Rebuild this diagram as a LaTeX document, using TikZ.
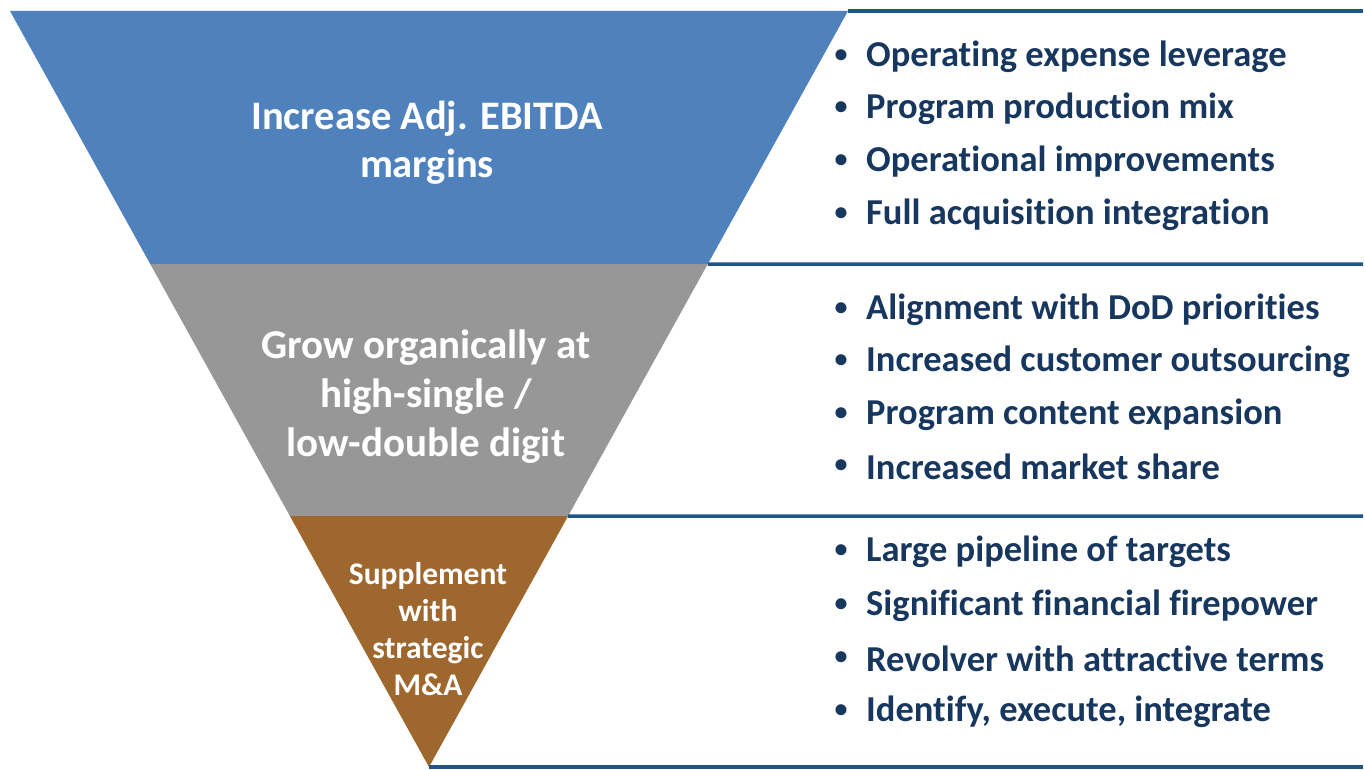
\documentclass[tikz,border=0pt]{standalone}
\usepackage{fontspec}
\setmainfont{Carlito}[Ligatures=NoCommon]
\usepackage{tikz}
\usetikzlibrary{calc}

\definecolor{tierblue}{RGB}{79,129,189}
\definecolor{tiergrey}{RGB}{151,151,151}
\definecolor{tierbrown}{RGB}{158,103,46}
\definecolor{rulenavy}{RGB}{31,84,135}
\definecolor{textnavy}{RGB}{23,55,94}

\tikzset{
  tiertext/.style={white, align=center},
  bullet/.style={textnavy, anchor=west, font=\fontsize{36.5}{42}\selectfont\bfseries, inner sep=0pt},
  dot/.style={textnavy, font=\fontsize{26}{30}\selectfont\bfseries, inner sep=0pt},
  rule/.style={rulenavy, line width=3.5pt}
}

\begin{document}
\begin{tikzpicture}[x=1pt, y=-1pt]
  \useasboundingbox (0,0) rectangle (1365,770);

  % corners of the funnel
  \coordinate (tl) at (10,11);
  \coordinate (tr) at (848,11);
  \coordinate (apex) at (429,767);
  \coordinate (l1) at ($(tl)!0.3347!(apex)$);
  \coordinate (r1) at ($(tr)!0.3347!(apex)$);
  \coordinate (l2) at ($(tl)!0.6680!(apex)$);
  \coordinate (r2) at ($(tr)!0.6680!(apex)$);

  \fill [tierblue] (tl) -- (tr) -- (r1) -- (l1) -- cycle; % top band
  \fill [tiergrey] (l1) -- (r1) -- (r2) -- (l2) -- cycle; % middle band
  \fill [tierbrown] (l2) -- (r2) -- (apex) -- cycle; % bottom tip

  \draw [rule] (tr) -- (1363,11);
  \draw [rule] (r1) -- (1363,264.0);
  \draw [rule] (r2) -- (1363,516.0);
  \draw [rule] (apex) -- (1363,767);

  \node (margins) [tiertext, font=\fontsize{40.5}{48}\selectfont\bfseries] at (427,143) {Increase Adj. EBITDA\\margins};
  \node (organic) [tiertext, font=\fontsize{41}{49}\selectfont\bfseries] at (426,397) {Grow organically at\\high-single /\\low-double digit};
  \node (mna) [tiertext, font=\fontsize{31.5}{37}\selectfont\bfseries] at (428,629) {Supplement\\with\\strategic\\M\&A};

  % bullet lists on the right
  \foreach \y/\txt in {55/Operating expense leverage, 107/Program production mix,
      160/Operational improvements, 213/Full acquisition integration,
      308/Alignment with DoD priorities, 360/Increased customer outsourcing,
      413/Program content expansion, 465/Increased market share,
      550/Large pipeline of targets, 604/Significant financial firepower,
      657/Revolver with attractive terms, 710/{Identify, execute, integrate}} {
    \node [dot] at (841,\y+1) {•};
    \node [bullet] at (866,\y+2) {\txt};
  }
\end{tikzpicture}
\end{document}
